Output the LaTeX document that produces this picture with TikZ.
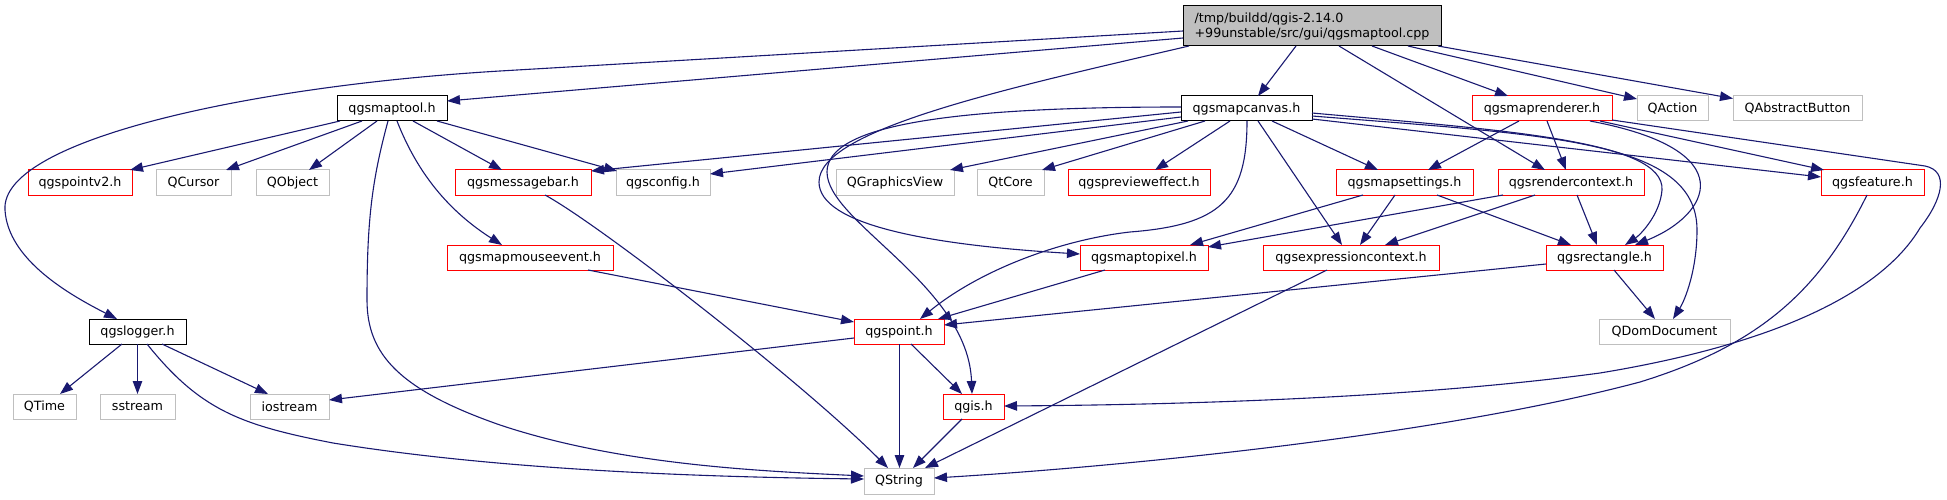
\documentclass[tikz,border=0pt]{standalone}
\usepackage{fontspec}
\setmainfont{DejaVu Sans}
\usetikzlibrary{arrows.meta,calc}
\definecolor{edgec}{HTML}{191970}
\definecolor{grayc}{HTML}{BFBFBF}
\definecolor{redc}{HTML}{FF0000}
\begin{document}
\begin{tikzpicture}[x=1pt,y=-1pt,
  nbase/.style={draw, line width=1pt, minimum height=25pt, inner sep=0pt, outer sep=0pt, text=black, font=\fontsize{12.7pt}{15pt}\selectfont},
  nblack/.style={nbase, draw=black},
  nred/.style={nbase, draw=redc},
  ngray/.style={nbase, draw=grayc},
  nmain/.style={nbase, draw=black, fill=grayc, minimum height=40pt, align=left},
  e/.style={draw=edgec, line width=1.1pt, -{Triangle[length=13pt,width=9.5pt]}}]
\useasboundingbox (0,0) rectangle (1947,500);

% nodes
\node[nmain, minimum width=258pt] (main) at (1312,26) {/tmp/buildd/qgis-2.14.0\\+99unstable/src/gui/qgsmaptool.cpp};
\node[nblack, minimum width=110pt] (maptool) at (392,108.5) {qgsmaptool.h};
\node[nblack, minimum width=131pt] (mapcanvas) at (1246.5,108.5) {qgsmapcanvas.h};
\node[nred, minimum width=140pt] (maprenderer) at (1542,108.5) {qgsmaprenderer.h};
\node[ngray, minimum width=71pt] (QAction) at (1672.5,108.5) {QAction};
\node[ngray, minimum width=129pt] (QAbstractButton) at (1797.5,108.5) {QAbstractButton};
\node[nred, minimum width=104pt] (pointv2) at (80,182.5) {qgspointv2.h};
\node[ngray, minimum width=75pt] (QCursor) at (193.5,182.5) {QCursor};
\node[ngray, minimum width=73pt] (QObject) at (292.5,182.5) {QObject};
\node[nred, minimum width=136pt] (messagebar) at (523,182.5) {qgsmessagebar.h};
\node[ngray, minimum width=94pt] (qgsconfig) at (663,182.5) {qgsconfig.h};
\node[ngray, minimum width=118pt] (QGraphicsView) at (895,182.5) {QGraphicsView};
\node[ngray, minimum width=67pt] (QtCore) at (1010.5,182.5) {QtCore};
\node[nred, minimum width=142pt] (previeweffect) at (1139,182.5) {qgsprevieweffect.h};
\node[nred, minimum width=137pt] (mapsettings) at (1404.5,182.5) {qgsmapsettings.h};
\node[nred, minimum width=146pt] (rendercontext) at (1571,182.5) {qgsrendercontext.h};
\node[nred, minimum width=103pt] (qgsfeature) at (1872.5,182.5) {qgsfeature.h};
\node[nred, minimum width=166pt] (mapmouseevent) at (530,257.5) {qgsmapmouseevent.h};
\node[nred, minimum width=128pt] (maptopixel) at (1144,257.5) {qgsmaptopixel.h};
\node[nred, minimum width=176pt] (expressioncontext) at (1351,257.5) {qgsexpressioncontext.h};
\node[nred, minimum width=117pt] (rectangle) at (1604.5,257.5) {qgsrectangle.h};
\node[nblack, minimum width=97pt] (logger) at (137.5,331.5) {qgslogger.h};
\node[nred, minimum width=90pt] (qgspoint) at (899,331.5) {qgspoint.h};
\node[ngray, minimum width=131pt] (QDomDocument) at (1664.5,331.5) {QDomDocument};
\node[ngray, minimum width=63pt] (QTime) at (44.5,406.5) {QTime};
\node[ngray, minimum width=75pt] (sstream) at (137.5,406.5) {sstream};
\node[ngray, minimum width=79pt] (iostream) at (289.5,406.5) {iostream};
\node[nred, minimum width=61pt] (qgis) at (973.5,406.5) {qgis.h};
\node[ngray, minimum width=70pt, minimum height=26pt] (QString) at (899,481) {QString};

% edges from main
\draw[e] ($(main.west)+(0,12)$) -- ($(maptool.east)+(0,-7.5)$);
\draw[e] ($(main.west)+(0,5)$) -- (500,71) .. controls (250,86) and (0,140) .. (5,210) .. controls (8,260) and (70,295) .. ($(logger.north)+(-20.5,0)$);
\draw[e] ($(main.south)+(-16,0)$) -- ($(mapcanvas.north)+(11.5,0)$);
\draw[e] ($(main.south west)+(6,0)$) .. controls (1000,90) and (819,130) .. (819,182) .. controls (819,225) and (930,245) .. ($(maptopixel.west)+(0,-3.5)$);
\draw[e] ($(main.south)+(27,0)$) -- ($(rendercontext.north)+(-26,0)$);
\draw[e] ($(main.south)+(60,0)$) -- ($(maprenderer.north)+(-34,0)$);
\draw[e] ($(main.south)+(96,0)$) -- ($(QAction.west)+(0,-9.5)$);
\draw[e] ($(main.south east)+(-3,0)$) -- ($(QAbstractButton.west)+(0,-10)$);

% edges from qgsmaptool.h
\draw[e] ($(maptool.south west)+(3,0)$) -- ($(pointv2.north)+(50,0)$);
\draw[e] ($(maptool.south)+(-30,0)$) -- ($(QCursor.north)+(32.5,0)$);
\draw[e] ($(maptool.south)+(-15,0)$) -- ($(QObject.north)+(16.5,0)$);
\draw[e] ($(maptool.south)+(-4,0)$) .. controls (372,180) and (367,220) .. (367,300) .. controls (367,355) and (400,390) .. (500,425) .. controls (620,465) and (760,471) .. ($(QString.west)+(0,-5)$);
\draw[e] ($(maptool.south)+(5,0)$) .. controls (420,180) and (455,215) .. ($(mapmouseevent.north)+(-28,0)$);
\draw[e] ($(maptool.south)+(21,0)$) -- ($(messagebar.north)+(-21,0)$);
\draw[e] ($(maptool.south)+(45,0)$) -- ($(qgsconfig.north west)+(1,1)$);

% edges from qgslogger.h
\draw[e] ($(logger.south)+(-15.5,0)$) -- ($(QTime.north)+(15.5,0)$);
\draw[e] (logger.south) -- (sstream.north);
\draw[e] ($(logger.south)+(24.5,0)$) -- ($(iostream.north)+(-21.5,0)$);
\draw[e] ($(logger.south)+(9.5,0)$) .. controls (200,410) and (240,425) .. (333,443) .. controls (500,470) and (700,477) .. ($(QString.west)+(0,-2)$);

% qgsmessagebar.h
\draw[e] ($(messagebar.south)+(22,0)$) .. controls (600,225) and (800,380) .. ($(QString.north)+(-11,0)$);

% edges from qgsmapcanvas.h
\draw[e] ($(mapcanvas.west)+(0,3.5)$) -- ($(messagebar.north east)+(0,1)$);
\draw[e] ($(mapcanvas.west)+(0,8.5)$) -- ($(qgsconfig.north east)+(0,4)$);
\draw[e] ($(mapcanvas.west)+(0,-1.5)$) .. controls (950,107) and (827,125) .. (827,172) .. controls (827,222) and (968,285) .. ($(qgis.north)+(-1.5,0)$);
\draw[e] ($(mapcanvas.south west)+(7,0)$) -- ($(QGraphicsView.north east)+(-4,0)$);
\draw[e] ($(mapcanvas.south west)+(24,0)$) -- ($(QtCore.north east)+(-2,0)$);
\draw[e] ($(mapcanvas.south)+(-16.5,0)$) -- ($(previeweffect.north)+(16,0)$);
\draw[e] ($(mapcanvas.south)+(0.5,0)$) .. controls (1247,200) and (1220,225) .. (1130,232) .. controls (1060,240) and (980,270) .. ($(qgspoint.north)+(21,0)$);
\draw[e] ($(mapcanvas.south)+(11.5,0)$) -- ($(expressioncontext.north)+(-9,0)$);
\draw[e] ($(mapcanvas.south)+(25.5,0)$) -- ($(mapsettings.north)+(-26.5,0)$);
\draw[e] ($(mapcanvas.east)+(0,4.5)$) .. controls (1500,130) and (1665,140) .. (1662,190) .. controls (1660,215) and (1640,235) .. ($(rectangle.north)+(20.5,0)$);
\draw[e] ($(mapcanvas.east)+(0,7.5)$) .. controls (1550,135) and (1697,140) .. (1697,230) .. controls (1697,270) and (1685,300) .. ($(QDomDocument.north)+(8.5,0)$);
\draw[e] ($(mapcanvas.east)+(0,10.5)$) -- ($(qgsfeature.west)+(0,-5.5)$);

% edges from qgsmaprenderer.h
\draw[e] ($(maprenderer.south)+(-23,0)$) -- ($(mapsettings.north)+(23.5,0)$);
\draw[e] ($(maprenderer.south)+(5,0)$) -- ($(rendercontext.north)+(-5,0)$);
\draw[e] ($(maprenderer.south)+(48,0)$) .. controls (1745,150) and (1710,215) .. ($(rectangle.north)+(30.5,0)$);
\draw[e] ($(maprenderer.south)+(58,0)$) -- ($(qgsfeature.north west)+(3,0)$);
\draw[e] ($(maprenderer.south east)+(0,-1)$) -- (1925,166) .. controls (1950,171) and (1942,200) .. (1920,228) .. controls (1880,295) and (1770,345) .. (1600,373) .. controls (1400,400) and (1150,405) .. ($(qgis.east)+(0,-0.5)$);

% qgsfeature.h
\draw[e] ($(qgsfeature.south)+(-5.5,0)$) .. controls (1820,290) and (1760,345) .. (1640,382) .. controls (1430,438) and (1100,468) .. ($(QString.east)+(0,-3)$);

% qgsrendercontext.h
\draw[e] ($(rendercontext.south west)+(5,0)$) -- ($(maptopixel.north east)+(0,2)$);
\draw[e] ($(rendercontext.south)+(-36,0)$) -- ($(expressioncontext.north)+(34,0)$);
\draw[e] ($(rendercontext.south)+(6,0)$) -- ($(rectangle.north)+(-7.5,0)$);

% qgsmapsettings.h
\draw[e] ($(mapsettings.south)+(-41.5,0)$) -- ($(maptopixel.north)+(46,0)$);
\draw[e] ($(mapsettings.south)+(-9.5,0)$) -- ($(expressioncontext.north)+(9,0)$);
\draw[e] ($(mapsettings.south)+(32.5,0)$) -- ($(rectangle.north)+(-33.5,0)$);

% qgsmaptopixel.h
\draw[e] ($(maptopixel.south)+(-39,0)$) -- ($(qgspoint.north)+(39,0)$);

% qgsexpressioncontext.h
\draw[e] ($(expressioncontext.south)+(-24,0)$) -- ($(QString.north)+(26,0)$);

% qgsrectangle.h
\draw[e] ($(rectangle.west)+(0,6.5)$) -- ($(qgspoint.east)+(0,-6.5)$);
\draw[e] ($(rectangle.south)+(9.5,0)$) -- ($(QDomDocument.north)+(-9.5,0)$);

% qgsmapmouseevent.h
\draw[e] ($(mapmouseevent.south)+(58,0)$) -- ($(qgspoint.west)+(0,-9.5)$);

% qgspoint.h
\draw[e] ($(qgspoint.west)+(0,6.5)$) -- ($(iostream.east)+(0,-6.5)$);
\draw[e] ($(qgspoint.south)+(0.5,0)$) -- ($(QString.north)+(0.5,0)$);
\draw[e] ($(qgspoint.south)+(12,0)$) -- ($(qgis.north)+(-11.5,0)$);

% qgis.h
\draw[e] ($(qgis.south)+(-11.5,0)$) -- ($(QString.north)+(14,0)$);
\end{tikzpicture}
\end{document}
